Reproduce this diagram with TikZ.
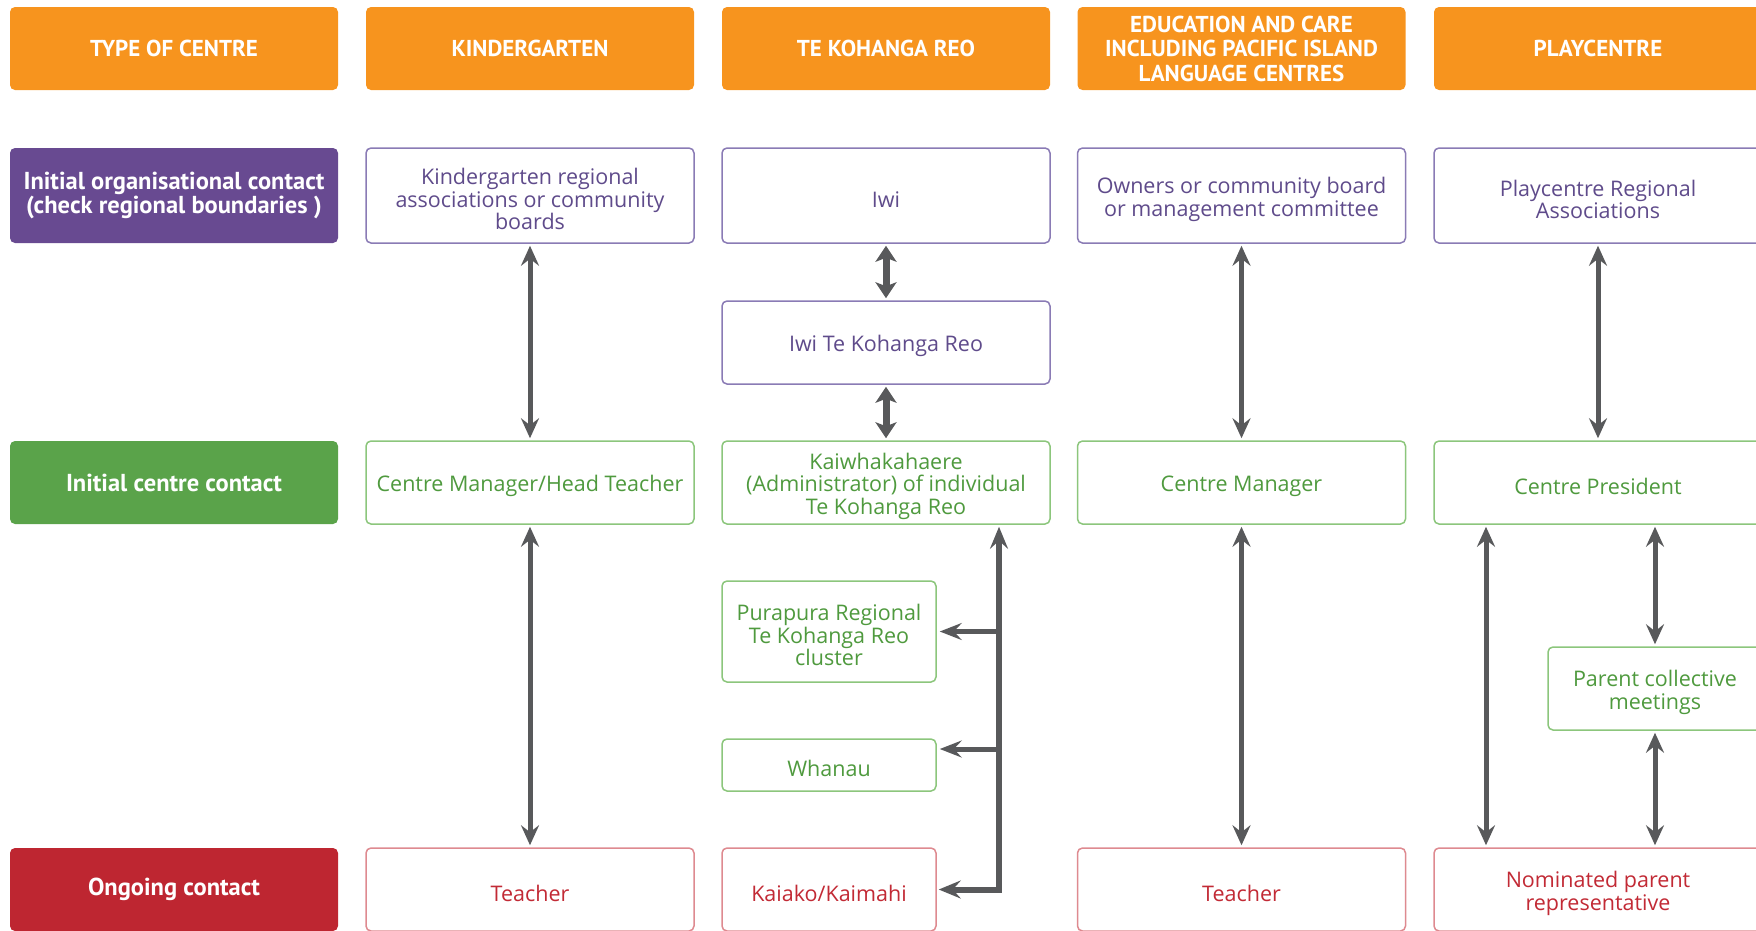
\documentclass[tikz,border=0pt]{standalone}
\usepackage{fontspec}
\setmainfont{Open Sans}
\newfontfamily\labfont{PT Sans}
\usetikzlibrary{arrows.meta}

\definecolor{hdr}{HTML}{F7941E}
\definecolor{purp}{HTML}{684A91}
\definecolor{grn}{HTML}{5AA34A}
\definecolor{redd}{HTML}{BE2631}
\definecolor{purpline}{HTML}{8A7BB5}
\definecolor{purptext}{HTML}{5F4B8B}
\definecolor{grnline}{HTML}{8CC67C}
\definecolor{grntext}{HTML}{4F9A3E}
\definecolor{redline}{HTML}{DE8A90}
\definecolor{redtext}{HTML}{C22A35}
\definecolor{arr}{HTML}{58595B}

% tall strut for the first line of box text, so the text sits a little below centre
\newcommand\tstrut{\rule{0pt}{24pt}}

\tikzset{
  box/.style={rectangle, rounded corners=5pt, align=center, inner sep=3pt,
    minimum width=328pt, minimum height=83pt},
  filled/.style={box, text=white, font=\labfont\bfseries\fontsize{24.5}{22}\selectfont},
  hdrbox/.style={filled, fill=hdr, font=\labfont\bfseries\fontsize{23}{24.5}\selectfont},
  orglabel/.style={filled, fill=purp, minimum height=95pt},
  ctrlabel/.style={filled, fill=grn},
  onglabel/.style={filled, fill=redd},
  plain/.style={box, fill=white, line width=1.5pt, font=\fontsize{21.5}{22.5}\selectfont},
  orgbox/.style={plain, draw=purpline, text=purptext, minimum height=95pt},
  ctrbox/.style={plain, draw=grnline, text=grntext},
  ongbox/.style={plain, draw=redline, text=redtext},
  link/.style={draw=arr, line width=5pt, shorten <=2pt, shorten >=2pt,
    >={Stealth[length=20pt,width=18pt,inset=7pt]}, <->},
  thicklink/.style={link, line width=7pt,
    >={Stealth[length=16pt,width=21pt,inset=4pt]}},
  bracket/.style={link, line width=6pt, line join=miter,
    >={Stealth[length=22pt,width=18pt,inset=8pt]}},
  branch/.style={draw=arr, line width=5pt, shorten >=3pt,
    -{Stealth[length=22pt,width=17pt,inset=8pt]}},
}

\begin{document}
\begin{tikzpicture}[x=1pt, y=-1pt]
\useasboundingbox (0,0) rectangle (1756,930);
\clip (0,0) rectangle (1756,930);

% column headings
\node[hdrbox] (h0) at (174,48.5) {TYPE OF CENTRE};
\node[hdrbox] (h1) at (530,48.5) {KINDERGARTEN};
\node[hdrbox] (h2) at (886,48.5) {TE KOHANGA REO};
\node[hdrbox] (h3) at (1241.5,48.5) {EDUCATION AND CARE\\INCLUDING PACIFIC ISLAND\\LANGUAGE CENTRES};
\node[hdrbox] (h4) at (1598,48.5) {PLAYCENTRE};

% row labels
\node[orglabel] (l1) at (174,195.5) {Initial organisational contact\\(check regional boundaries )};
\node[ctrlabel] (l2) at (174,482.5) {Initial centre contact};
\node[onglabel] (l3) at (174,889.5) {Ongoing contact};

% organisational contacts
\node[orgbox] (kr) at (530,195.5) {\tstrut Kindergarten regional\\associations or community\\boards};
\node[orgbox] (iwi) at (886,195.5) {\tstrut Iwi};
\node[orgbox] (own) at (1241.5,195.5) {\tstrut Owners or community board\\or management committee};
\node[orgbox] (pra) at (1598,195.5) {\tstrut Playcentre Regional\\Associations};
\node[orgbox, minimum height=83pt] (itk) at (886,342.5) {\tstrut Iwi Te Kohanga Reo};

% centre contacts
\node[ctrbox] (kmh) at (530,482.5) {\tstrut Centre Manager/Head Teacher};
\node[ctrbox] (kai) at (886,482.5) {\tstrut Kaiwhakahaere\\(Administrator) of individual\\Te Kohanga Reo};
\node[ctrbox] (cm) at (1241.5,482.5) {\tstrut Centre Manager};
\node[ctrbox] (cp) at (1598,482.5) {\tstrut Centre President};
\node[ctrbox, minimum width=214pt, minimum height=101pt] (pura) at (829,631.5) {\tstrut Purapura Regional\\Te Kohanga Reo\\cluster};
\node[ctrbox, minimum width=214pt, minimum height=52pt] (wha) at (829,765) {\tstrut Whanau};
\node[ctrbox, minimum width=214pt] (pcm) at (1655,688.5) {\tstrut Parent collective\\meetings};

% ongoing contacts
\node[ongbox] (t1) at (530,889.5) {\tstrut Teacher};
\node[ongbox, minimum width=214pt] (kk) at (829,889.5) {\tstrut Kaiako/Kaimahi};
\node[ongbox] (t3) at (1241.5,889.5) {\tstrut Teacher};
\node[ongbox] (npr) at (1598,889.5) {\tstrut Nominated parent\\representative};

% kindergarten
\draw[link] (kr) -- (kmh);
\draw[link] (kmh) -- (t1);

% te kohanga reo
\draw[thicklink] (iwi) -- (itk);
\draw[thicklink] (itk) -- (kai);
\coordinate (bx) at (999,0);
\coordinate (wy) at (0,749);
\draw[bracket] (kk.east) -| (kai.south -| bx);
\draw[branch] (pura.east -| bx) -- (pura.east);
\draw[branch] (wy -| bx) -- (wy -| wha.east);

% education and care
\draw[link] (own) -- (cm);
\draw[link] (cm) -- (t3);

% playcentre
\coordinate (pl) at (1486,0);
\draw[link] (pra) -- (cp);
\draw[link] (cp.south -| pl) -- (npr.north -| pl);
\draw[link] (cp.south -| pcm) -- (pcm);
\draw[link] (pcm) -- (pcm |- npr.north);
\end{tikzpicture}
\end{document}
